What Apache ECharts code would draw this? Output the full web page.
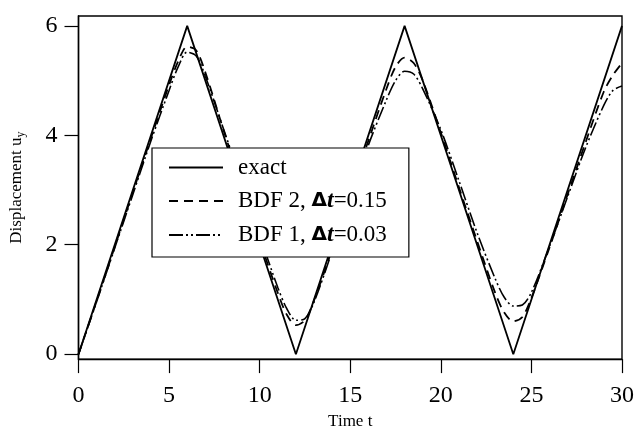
<!DOCTYPE html>
<html>
<head>
<meta charset="utf-8">
<script src="https://cdn.jsdelivr.net/npm/echarts@6/dist/echarts.min.js"></script>
<style>
  html, body { margin: 0; padding: 0; background: #fff; }
  #chart { width: 637px; height: 435px; }
</style>
</head>
<body>
<div id="chart"></div>
<script>
  // exact solution: triangle wave
  var tExact = [0, 6, 12, 18, 24, 30];
  var yExact = [0, 6, 0, 6, 0, 6];

  // sample times for the numerical curves
  var tNum = [0, 1, 2, 3, 4, 5, 5.5, 6, 6.5, 7, 8, 9, 10, 11, 11.5, 12, 12.5, 13, 14, 15, 16, 17, 17.5, 18, 18.5, 19, 20, 21, 22, 23, 23.5, 24, 24.5, 25, 26, 27, 28, 29, 29.5, 30];
  // BDF 2, dt = 0.15 (dashed)
  var yBdf2 = [0, 0.97, 1.96, 2.96, 3.95, 4.92, 5.35, 5.62, 5.55, 5.15, 4.1, 3.08, 2.08, 1.12, 0.72, 0.53, 0.62, 0.98, 1.92, 2.92, 3.9, 4.85, 5.25, 5.42, 5.32, 5.0, 4.05, 3.05, 2.07, 1.12, 0.76, 0.6, 0.68, 1.03, 1.95, 2.92, 3.88, 4.8, 5.1, 5.32];
  // BDF 1, dt = 0.03 (dash-dot-dot)
  var yBdf1 = [0, 0.96, 1.94, 2.92, 3.9, 4.82, 5.25, 5.52, 5.45, 5.08, 4.12, 3.15, 2.17, 1.22, 0.83, 0.62, 0.65, 0.95, 1.88, 2.86, 3.82, 4.65, 5.0, 5.17, 5.12, 4.85, 4.1, 3.17, 2.22, 1.38, 1.04, 0.88, 0.9, 1.13, 1.97, 2.88, 3.78, 4.55, 4.82, 4.9];

  var xTicks = [0, 5, 10, 15, 20, 25, 30];
  var yTicks = [0, 2, 4, 6];

  var names = ['exact', 'BDF 2, Δt=0.15', 'BDF 1, Δt=0.03'];

  function pairs(xs, ys) {
    var out = [];
    for (var i = 0; i < xs.length; i++) {
      out.push([xs[i], ys[i]]);
    }
    return out;
  }

  var serif = 'Liberation Serif, Times New Roman, serif';

  var chart = echarts.init(document.getElementById('chart'));
  chart.setOption({
    backgroundColor: '#fff',
    animation: false,
    textStyle: { fontFamily: serif, color: '#000' },
    grid: {
      left: 72, right: 15, top: 16, bottom: 73,
      show: true, borderColor: '#000', borderWidth: 1.4
    },
    legend: {
      data: names,
      orient: 'vertical',
      left: 152,
      top: 148,
      padding: [8, 22, 10, 16],
      itemWidth: 54,
      itemHeight: 22,
      itemGap: 10,
      itemStyle: { opacity: 0, color: 'transparent', borderWidth: 0 },
      backgroundColor: '#fff',
      borderColor: '#000',
      borderWidth: 1.2,
      borderRadius: 0,
      textStyle: {
        fontFamily: serif,
        fontSize: 23,
        color: '#000',
        padding: [0, 0, 0, 10],
        rich: {
          n: { fontFamily: serif, fontSize: 23, lineHeight: 22, color: '#000' },
          d: { fontFamily: 'DejaVu Sans', fontSize: 20, lineHeight: 22, fontWeight: 'bold', color: '#000' },
          t: { fontFamily: serif, fontSize: 24, lineHeight: 22, fontWeight: 'bold', fontStyle: 'italic', color: '#000' }
        }
      },
      formatter: function (name) {
        var k = name.indexOf('Δt');
        if (k < 0) return '{n|' + name + '}';
        return '{n|' + name.slice(0, k) + '}{d|Δ}{t|t}{n|' + name.slice(k + 2) + '}';
      }
    },
    xAxis: {
      type: 'value',
      min: 0,
      max: 30,
      interval: 5,
      name: 'Time t',
      nameLocation: 'middle',
      nameGap: 53,
      nameTextStyle: { fontFamily: serif, fontSize: 17, color: '#000' },
      axisLine: { onZero: false, lineStyle: { color: '#000', width: 1.4 } },
      axisTick: { show: true, inside: false, length: 14, customValues: xTicks, lineStyle: { color: '#000', width: 1.2 } },
      axisLabel: { fontFamily: serif, fontSize: 24, color: '#000', margin: 25, customValues: xTicks },
      splitLine: { show: false }
    },
    yAxis: {
      type: 'value',
      min: -0.09,
      max: 6.18,
      name: '{a|Displacement u}{s|y}',
      nameLocation: 'middle',
      nameGap: 52,
      nameTextStyle: {
        rich: {
          a: { fontFamily: serif, fontSize: 17, color: '#000' },
          s: { fontFamily: serif, fontSize: 12, color: '#000', padding: [8, 0, 0, 0] }
        }
      },
      axisLine: { onZero: false, lineStyle: { color: '#000', width: 1.4 } },
      axisTick: { show: true, inside: false, length: 14, customValues: yTicks, lineStyle: { color: '#000', width: 1.2 } },
      axisLabel: { fontFamily: serif, fontSize: 24, color: '#000', margin: 21, customValues: yTicks },
      splitLine: { show: false }
    },
    series: [
      {
        name: names[0],
        type: 'line',
        data: pairs(tExact, yExact),
        symbol: 'none',
        z: 3,
        lineStyle: { color: '#000', width: 1.8, type: 'solid' },
        itemStyle: { color: '#000' }
      },
      {
        name: names[1],
        type: 'line',
        data: pairs(tNum, yBdf2),
        smooth: 0.3,
        symbol: 'none',
        lineStyle: { color: '#000', width: 1.8, type: [9, 6] },
        itemStyle: { color: '#000' }
      },
      {
        name: names[2],
        type: 'line',
        data: pairs(tNum, yBdf1),
        smooth: 0.3,
        symbol: 'none',
        lineStyle: { color: '#000', width: 1.6, type: [14, 3, 2, 3, 2, 3] },
        itemStyle: { color: '#000' }
      }
    ]
  });
</script>
</body>
</html>
